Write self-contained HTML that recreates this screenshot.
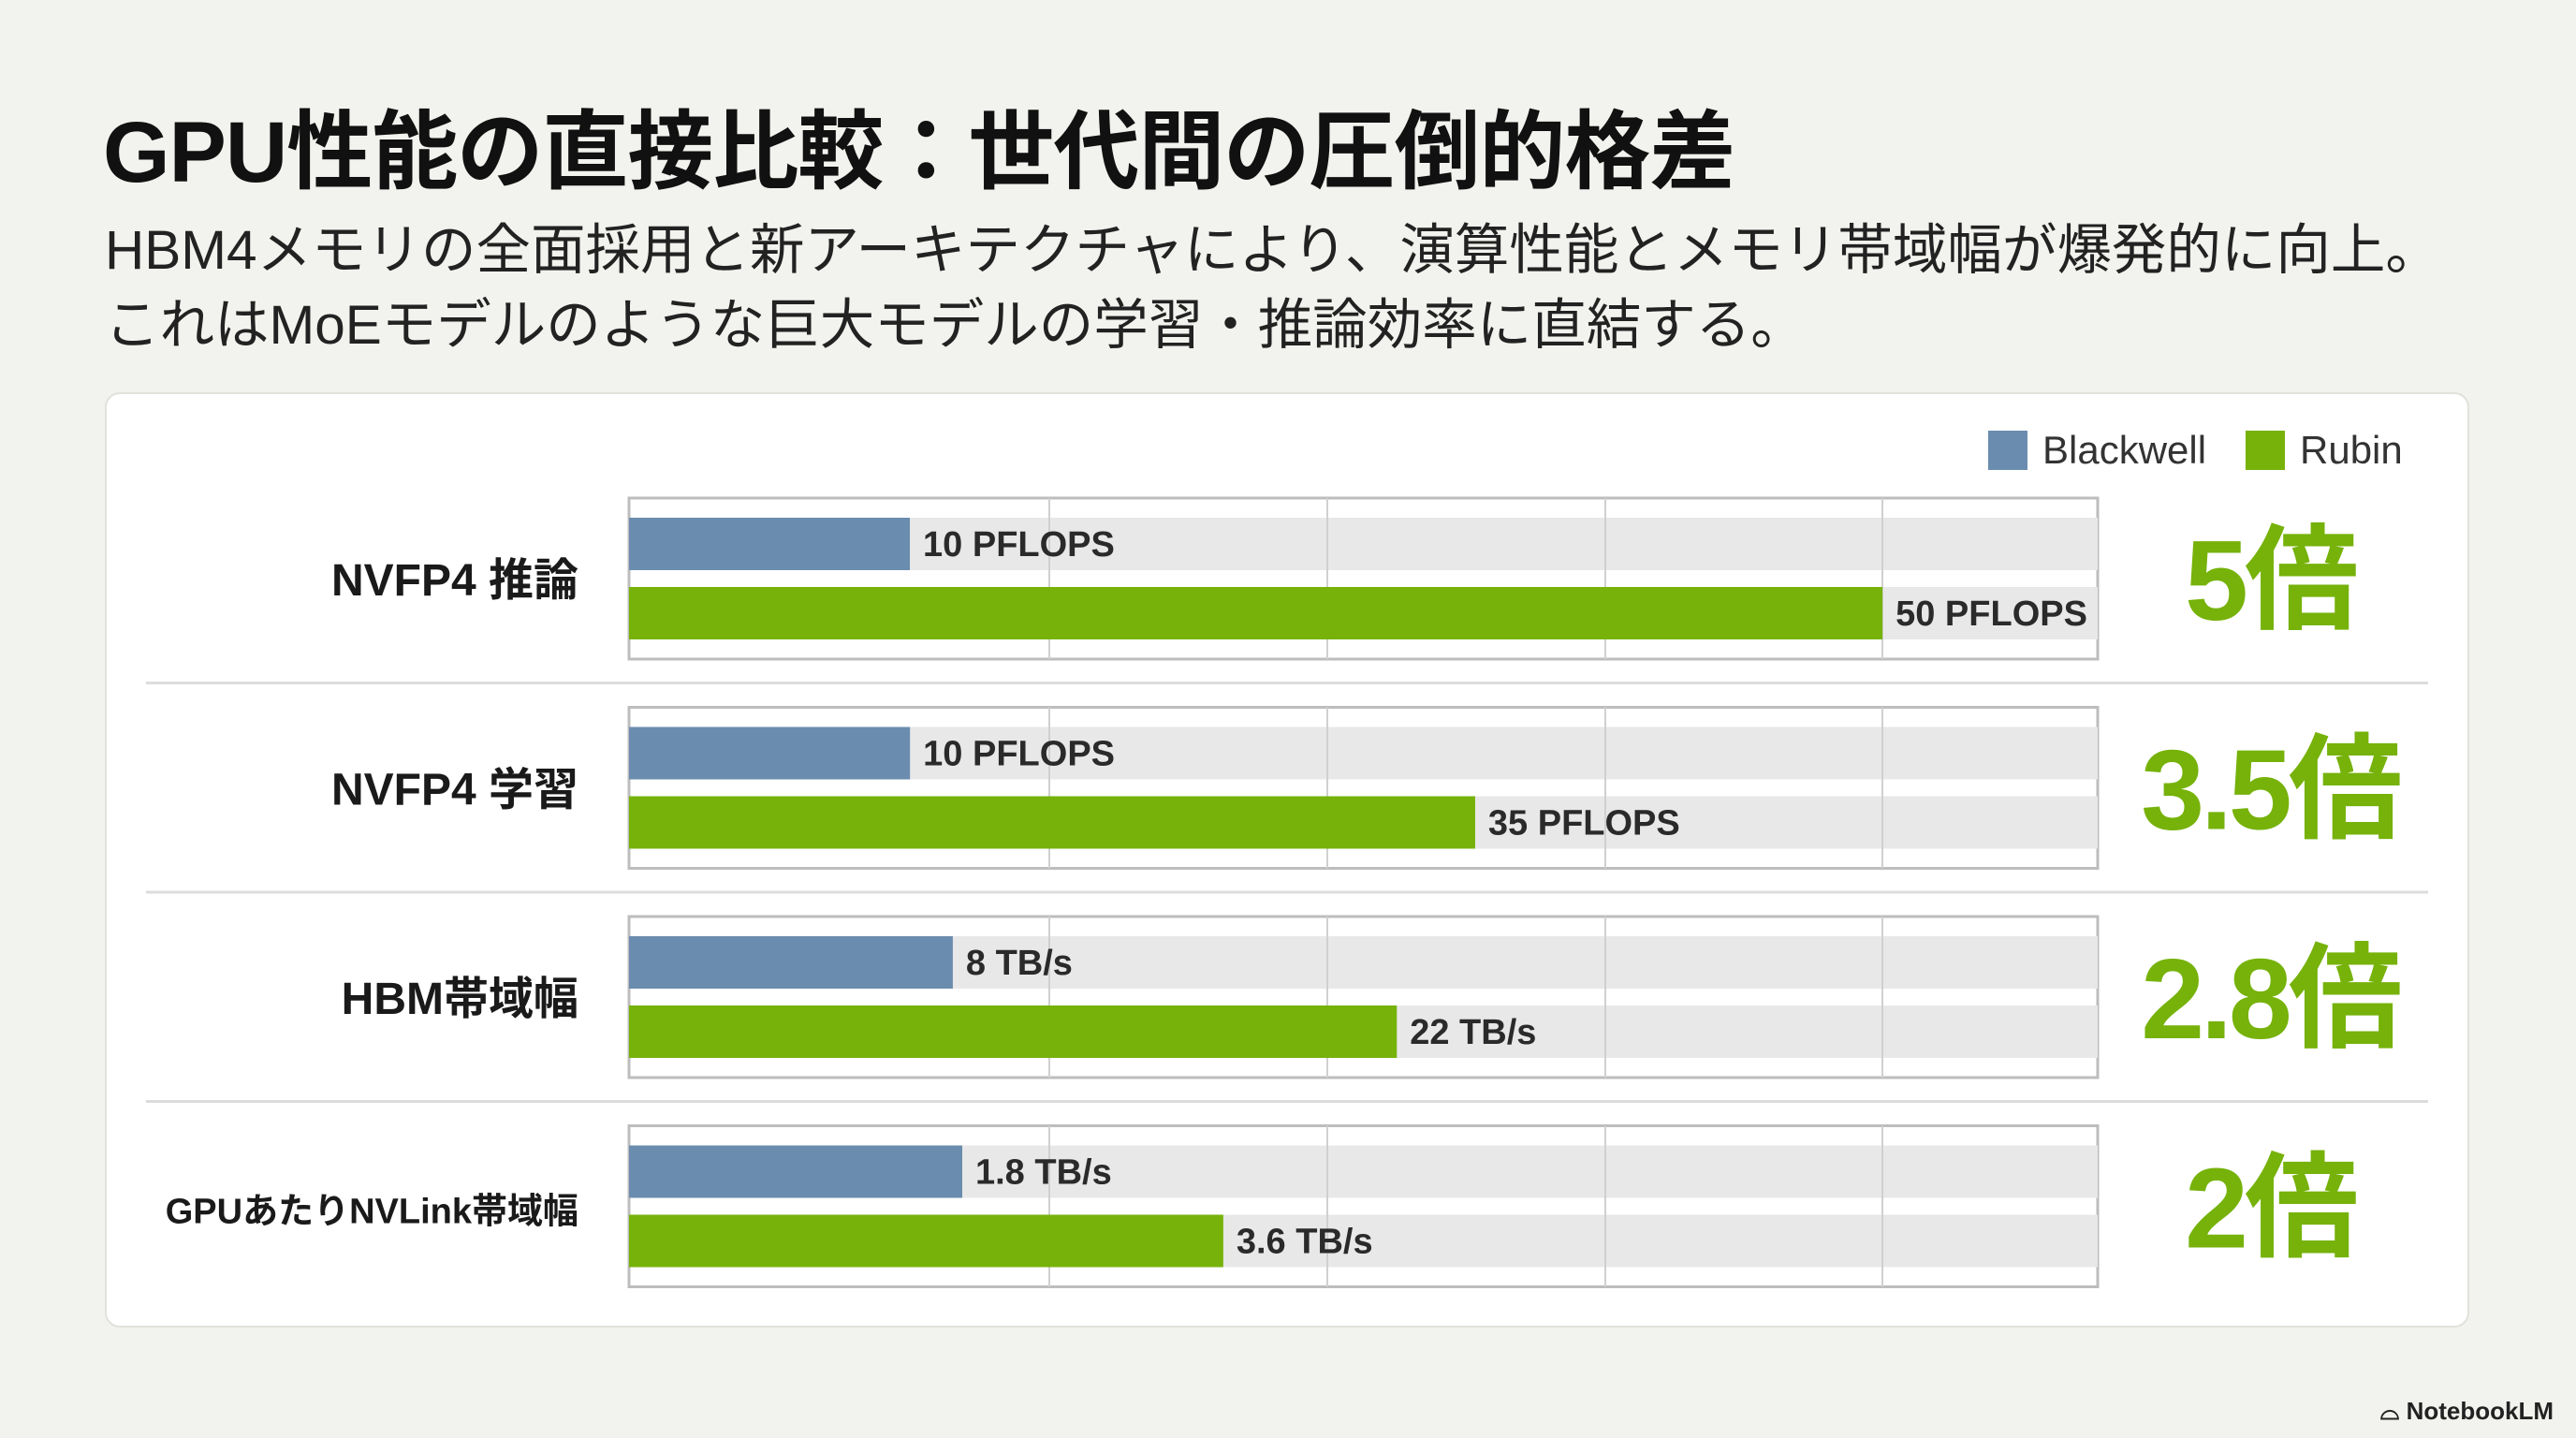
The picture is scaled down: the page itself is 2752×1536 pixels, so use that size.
<!DOCTYPE html>
<html><head><meta charset="utf-8">
<style>
html,body{margin:0;padding:0;}
body{width:2752px;height:1536px;background:#f2f2ee;overflow:hidden;position:relative;font-family:"Liberation Sans","Noto Sans CJK JP",sans-serif;}
#title{position:absolute;left:110px;top:88px;font-size:92px;font-weight:700;color:#111;white-space:nowrap;letter-spacing:-1px;}
#sub{position:absolute;left:112px;top:228px;font-size:58.5px;color:#222;line-height:80px;white-space:nowrap;}
#card{position:absolute;left:112px;top:419px;width:2526px;height:999px;background:#fff;border:2px solid #e2e2dc;border-radius:16px;box-sizing:border-box;}
#wm{position:absolute;right:24px;bottom:12px;font-size:26px;font-weight:700;color:#222;}
svg{position:absolute;left:0;top:0;}
</style></head>
<body>
<div id="title">GPU性能の直接比較：世代間の圧倒的格差</div>
<div id="sub">HBM4メモリの全面採用と新アーキテクチャにより、演算性能とメモリ帯域幅が爆発的に向上。<br>これはMoEモデルのような巨大モデルの学習・推論効率に直結する。</div>
<div id="card"></div>
<svg id="chart" width="2752" height="1536"></svg>
<div id="wm">⌓ NotebookLM</div>
<script>
const categories = ["NVFP4 推論","NVFP4 学習","HBM帯域幅","GPUあたりNVLink帯域幅"];
const blackwellValues = [10,10,8,1.8];
const rubinValues = [50,35,22,3.6];
const blackwellLabels = ["10 PFLOPS","10 PFLOPS","8 TB/s","1.8 TB/s"];
const rubinLabels = ["50 PFLOPS","35 PFLOPS","22 TB/s","3.6 TB/s"];
const multipliers = ["5倍","3.5倍","2.8倍","2倍"];
const groupMin = [-1.55,-2.43,-2.21,-0.498];
const groupMax = [58.85,62.54,44.1,9.63];

const NS="http://www.w3.org/2000/svg";
const svg=document.getElementById('chart');
function mk(tag,attrs,parent){const e=document.createElementNS(NS,tag);for(const k in attrs)e.setAttribute(k,attrs[k]);(parent||svg).appendChild(e);return e;}
const X0=672, W=1569, boxH=172, top0=532, step=223.5;
function xScale(v,i){return X0+(v-groupMin[i])/(groupMax[i]-groupMin[i])*W;}
function groupTop(i){return top0+i*step;}

let lg=mk('rect',{x:2124,y:460,width:42,height:42,fill:'#6a8cae'});


let lt=mk('text',{x:2182,y:495,'font-size':42,fill:'#333'});lt.textContent='Blackwell';


let lg2=mk('rect',{x:2399,y:460,width:42,height:42,fill:'#76b20a'});


let lt2=mk('text',{x:2457,y:495,'font-size':42,fill:'#333'});lt2.textContent='Rubin';



categories.forEach((c,i)=>{
  const t=groupTop(i);
  if(i>0){
    const s=mk('line',{x1:156,x2:2594,y1:t-26,y2:t-26,stroke:'#dcdcdc','stroke-width':3});
    
    
  }
  const box=mk('rect',{x:X0,y:t,width:W,height:boxH,fill:'#fff',stroke:'#bdbdbd','stroke-width':3});
  
  
  [21,95].forEach(o=>{
    const b=mk('rect',{x:X0,y:t+o,width:W,height:56,fill:'#e8e8e8'});
    
    
  });
  [449,746,1043,1339].forEach(g=>{
    const gl=mk('line',{x1:X0+g,x2:X0+g,y1:t,y2:t+boxH,stroke:'#d0d0d0','stroke-width':2});
    
    
  });
  const bx=xScale(blackwellValues[i],i);
  const bb=mk('rect',{x:X0,y:t+21,width:bx-X0,height:56,fill:'#6a8cae'});
  
  
  const bl=mk('text',{x:bx+14,y:t+62,'font-size':38,'font-weight':700,fill:'#2a2a2a'});bl.textContent=blackwellLabels[i];
  
  
  const rx=xScale(rubinValues[i],i);
  const rb=mk('rect',{x:X0,y:t+95,width:rx-X0,height:56,fill:'#76b20a'});
  
  
  const rl=mk('text',{x:rx+14,y:t+136,'font-size':38,'font-weight':700,fill:'#2a2a2a'});rl.textContent=rubinLabels[i];
  
  
  const cl=mk('text',{x:618,y:t+104,'font-size':i==3?38:48,'font-weight':700,fill:'#1a1a1a','text-anchor':'end'});cl.textContent=c;
  
  
  const ml=mk('text',{x:2425,y:t+130,'font-size':122,'font-weight':700,fill:'#76b20a','text-anchor':'middle','letter-spacing':-4});ml.textContent=multipliers[i];
  
  
});
</script>
</body></html>
